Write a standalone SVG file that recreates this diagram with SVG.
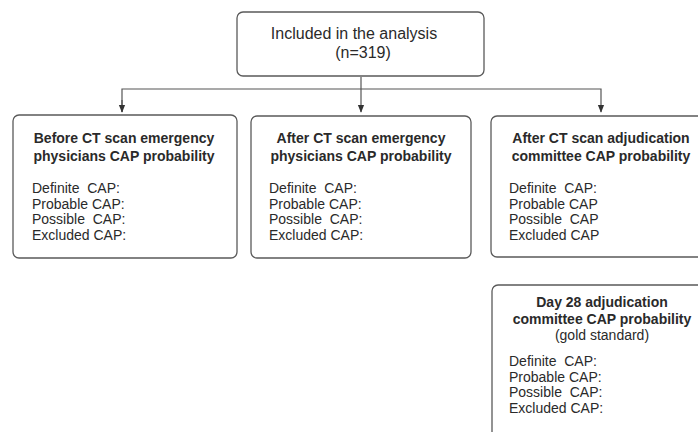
<svg xmlns="http://www.w3.org/2000/svg" width="698" height="432" viewBox="0 0 698 432">
<defs>
<style>
.box{fill:#fff;stroke:#5a5a5a;stroke-width:1.3}
.t{font-family:"Liberation Sans",Arial,sans-serif;fill:#2a2a2a}
.h{font-size:14px;font-weight:bold;text-anchor:middle}
.l{font-size:14px}
.c{stroke:#555;stroke-width:1.2;fill:none}
</style>
<marker id="arr" viewBox="0 0 10 10" refX="9" refY="5" markerWidth="8" markerHeight="8" orient="auto" markerUnits="userSpaceOnUse">
<path d="M0,1 L10,5 L0,9 Z" fill="#333"/>
</marker>
</defs>
<rect width="698" height="432" fill="#fff"/>
<g id="connectors">
<line class="c" x1="361" y1="77" x2="361" y2="112" marker-end="url(#arr)"/>
<polyline class="c" points="122,112 122,89 601,89 601,112" marker-end="url(#arr)"/>
<line class="c" x1="122" y1="100" x2="122" y2="112" marker-end="url(#arr)"/>
</g>
<g id="n0">
<rect class="box" x="237" y="12" width="247" height="64" rx="6"/>
<text class="t" x="354" y="39" font-size="16" text-anchor="middle">Included in the analysis</text>
<text class="t" x="363" y="58" font-size="16" text-anchor="middle">(n=319)</text>
</g>
<g id="n1">
<rect class="box" x="13" y="115" width="224" height="143" rx="6"/>
<text class="t h" x="124" y="143">Before CT scan emergency</text>
<text class="t h" x="124" y="161">physicians CAP probability</text>
<text class="t l" x="32" y="193" xml:space="preserve">Definite  CAP:</text>
<text class="t l" x="32" y="208.5">Probable CAP:</text>
<text class="t l" x="32" y="224" xml:space="preserve">Possible  CAP:</text>
<text class="t l" x="32" y="239.5">Excluded CAP:</text>
</g>
<g id="n2">
<rect class="box" x="251" y="116" width="220" height="142" rx="6"/>
<text class="t h" x="361" y="143">After CT scan emergency</text>
<text class="t h" x="361" y="161">physicians CAP probability</text>
<text class="t l" x="269" y="193" xml:space="preserve">Definite  CAP:</text>
<text class="t l" x="269" y="208.5">Probable CAP:</text>
<text class="t l" x="269" y="224" xml:space="preserve">Possible  CAP:</text>
<text class="t l" x="269" y="239.5">Excluded CAP:</text>
</g>
<g id="n3">
<rect class="box" x="491" y="116" width="222" height="141" rx="6"/>
<text class="t h" x="601" y="143">After CT scan adjudication</text>
<text class="t h" x="601" y="161">committee CAP probability</text>
<text class="t l" x="509" y="193" xml:space="preserve">Definite  CAP:</text>
<text class="t l" x="509" y="208.5">Probable CAP</text>
<text class="t l" x="509" y="224" xml:space="preserve">Possible  CAP</text>
<text class="t l" x="509" y="239.5">Excluded CAP</text>
</g>
<g id="n4">
<rect class="box" x="492" y="285" width="222" height="160" rx="6"/>
<text class="t h" x="602" y="307">Day 28 adjudication</text>
<text class="t h" x="602" y="324">committee CAP probability</text>
<text class="t" x="602" y="340" font-size="14" text-anchor="middle">(gold standard)</text>
<text class="t l" x="509" y="366" xml:space="preserve">Definite  CAP:</text>
<text class="t l" x="509" y="381.5">Probable CAP:</text>
<text class="t l" x="509" y="397" xml:space="preserve">Possible  CAP:</text>
<text class="t l" x="509" y="412.5">Excluded CAP:</text>
</g>
</svg>
